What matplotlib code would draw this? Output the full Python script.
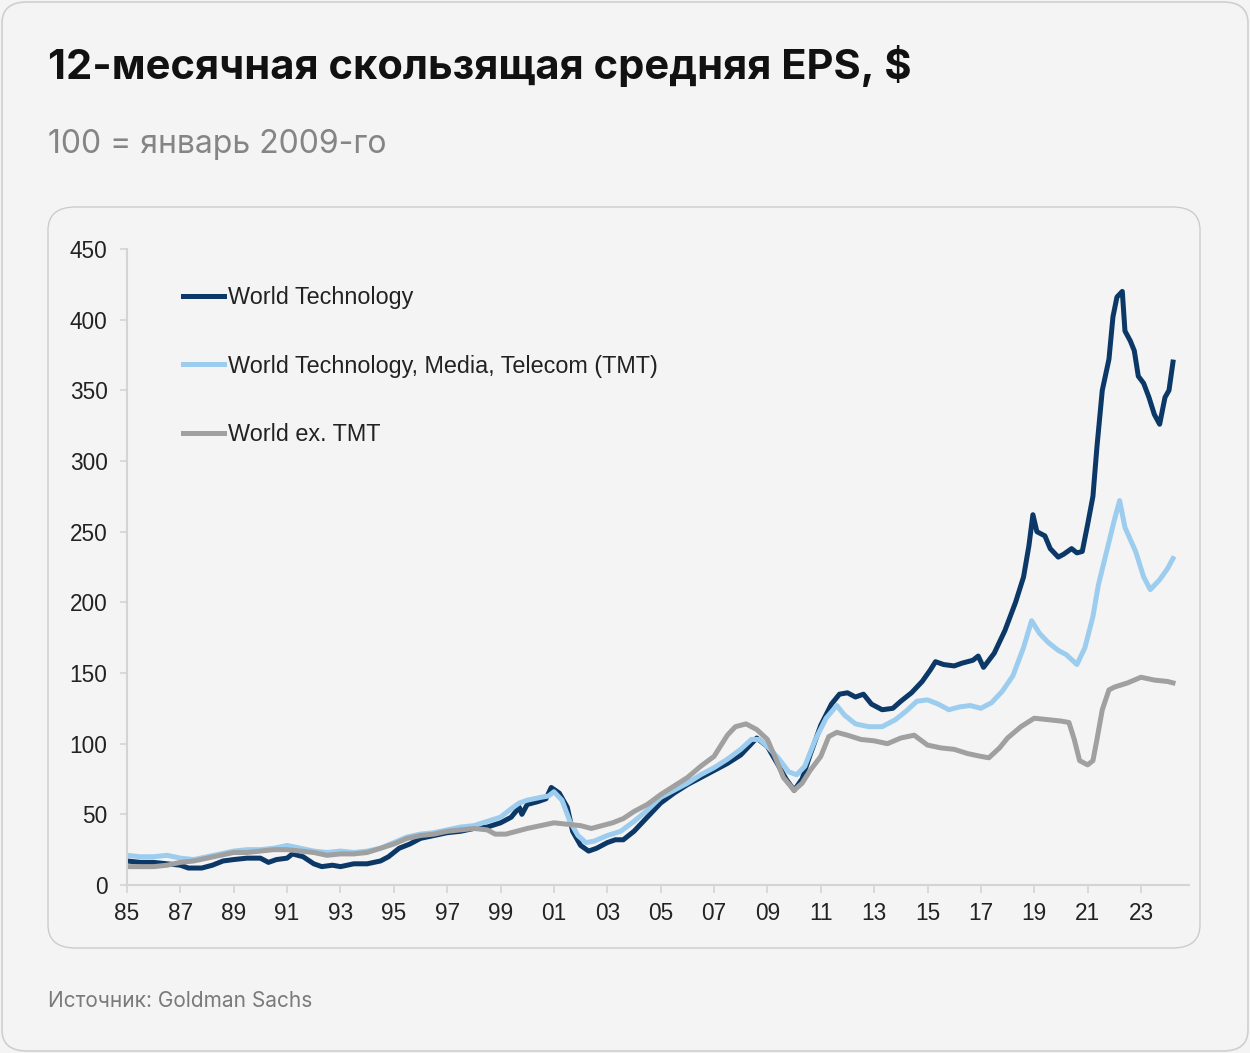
import matplotlib
matplotlib.use("Agg")
import matplotlib.pyplot as plt
from matplotlib.patches import FancyBboxPatch

# ------- данные (чтение с графика), 100 = январь 2009
tech_years = [1985.0, 1985.5, 1986.0, 1986.5, 1987.0, 1987.3, 1987.8, 1988.2, 1988.6, 1989.0,
              1989.5, 1990.0, 1990.3, 1990.6, 1991.0, 1991.2, 1991.6, 1992.0, 1992.3, 1992.7,
              1993.0, 1993.5, 1994.0, 1994.5, 1994.8, 1995.2, 1995.6, 1996.0, 1996.5, 1997.0,
              1997.5, 1998.0, 1998.5, 1999.0, 1999.4, 1999.7, 1999.8, 2000.0, 2000.4, 2000.7,
              2000.9, 2001.2, 2001.5, 2001.7, 2002.0, 2002.3, 2002.6, 2003.0, 2003.3, 2003.6,
              2004.0, 2004.5, 2005.0, 2005.5, 2006.0, 2006.5, 2007.0, 2007.5, 2008.0, 2008.3,
              2008.6, 2009.0, 2009.4, 2009.7, 2010.0, 2010.3, 2010.6, 2011.0, 2011.4, 2011.7,
              2012.0, 2012.3, 2012.6, 2012.9, 2013.3, 2013.7, 2014.0, 2014.4, 2014.8, 2015.1,
              2015.3, 2015.6, 2016.0, 2016.3, 2016.7, 2016.9, 2017.1, 2017.5, 2017.9, 2018.3,
              2018.6, 2018.8, 2018.95, 2019.1, 2019.4, 2019.6, 2019.9, 2020.1, 2020.4, 2020.6,
              2020.8, 2021.0, 2021.2, 2021.35, 2021.55, 2021.8, 2021.95, 2022.1, 2022.3, 2022.4,
              2022.6, 2022.75, 2022.9, 2023.1, 2023.3, 2023.5, 2023.7, 2023.9, 2024.05, 2024.2]
tech_values = [17, 16, 16, 15, 14, 12, 12, 14, 17, 18,
               19, 19, 16, 18, 19, 22, 20, 15, 13, 14,
               13, 15, 15, 17, 20, 26, 29, 33, 35, 37,
               38, 40, 41, 44, 48, 55, 50, 57, 59, 61,
               69, 65, 55, 38, 28, 24, 26, 30, 32, 32,
               38, 48, 58, 65, 71, 76, 81, 86, 92, 98,
               104, 98, 85, 75, 67, 75, 92, 113, 128, 135,
               136, 133, 135, 128, 124, 125, 130, 136, 144, 152,
               158, 156, 155, 157, 159, 162, 154, 164, 180, 200,
               218, 240, 262, 250, 247, 238, 232, 234, 238, 235,
               236, 255, 275, 310, 350, 372, 402, 416, 420, 392,
               385, 378, 360, 355, 345, 333, 326, 345, 350, 370]

tmt_years = [1985.0, 1985.5, 1986.0, 1986.5, 1987.0, 1987.5, 1988.0, 1988.5, 1989.0, 1989.5,
             1990.0, 1990.5, 1991.0, 1991.5, 1992.0, 1992.5, 1993.0, 1993.5, 1994.0, 1994.5,
             1995.0, 1995.5, 1996.0, 1996.5, 1997.0, 1997.5, 1998.0, 1998.5, 1999.0, 1999.4,
             1999.7, 2000.0, 2000.5, 2000.8, 2001.0, 2001.3, 2001.6, 2001.9, 2002.2, 2002.5,
             2003.0, 2003.5, 2004.0, 2004.5, 2005.0, 2005.5, 2006.0, 2006.5, 2007.0, 2007.5,
             2008.0, 2008.4, 2008.7, 2009.0, 2009.4, 2009.8, 2010.1, 2010.4, 2010.8, 2011.2,
             2011.6, 2011.9, 2012.3, 2012.8, 2013.3, 2013.8, 2014.2, 2014.6, 2015.0, 2015.4,
             2015.8, 2016.2, 2016.6, 2017.0, 2017.4, 2017.8, 2018.2, 2018.6, 2018.9, 2019.2,
             2019.5, 2019.9, 2020.2, 2020.6, 2020.9, 2021.2, 2021.4, 2021.7, 2022.0, 2022.2,
             2022.4, 2022.8, 2023.1, 2023.35, 2023.7, 2024.0, 2024.2]
tmt_values = [21, 20, 20, 21, 19, 18, 20, 22, 24, 25,
              25, 26, 28, 26, 24, 23, 24, 23, 24, 26,
              30, 34, 36, 37, 39, 41, 42, 45, 48, 54,
              58, 60, 62, 63, 66, 60, 45, 35, 30, 31,
              35, 38, 45, 53, 62, 67, 72, 78, 83, 89,
              96, 103, 103, 98, 90, 80, 78, 84, 103, 118,
              127, 120, 114, 112, 112, 117, 123, 130, 131, 128,
              124, 126, 127, 125, 129, 137, 148, 168, 187, 178,
              172, 166, 163, 156, 168, 190, 212, 235, 258, 272,
              253, 236, 218, 209, 216, 224, 231]

extmt_years = [1985.0, 1985.5, 1986.0, 1986.5, 1987.0, 1987.5, 1988.0, 1988.5, 1989.0, 1989.5,
               1990.0, 1990.5, 1991.0, 1991.5, 1992.0, 1992.5, 1993.0, 1993.5, 1994.0, 1994.5,
               1995.0, 1995.5, 1996.0, 1996.5, 1997.0, 1997.5, 1998.0, 1998.5, 1998.8, 1999.2,
               1999.6, 2000.0, 2000.5, 2001.0, 2001.5, 2002.0, 2002.4, 2002.8, 2003.2, 2003.6,
               2004.0, 2004.5, 2005.0, 2005.5, 2006.0, 2006.5, 2007.0, 2007.5, 2007.8, 2008.2,
               2008.6, 2009.0, 2009.3, 2009.6, 2010.0, 2010.3, 2010.6, 2011.0, 2011.3, 2011.6,
               2012.0, 2012.5, 2013.0, 2013.5, 2014.0, 2014.5, 2015.0, 2015.5, 2016.0, 2016.5,
               2017.0, 2017.3, 2017.7, 2018.0, 2018.5, 2019.0, 2019.5, 2020.0, 2020.3, 2020.5,
               2020.7, 2021.0, 2021.2, 2021.35, 2021.55, 2021.8, 2022.0, 2022.5, 2023.0, 2023.5,
               2024.0, 2024.2]
extmt_values = [13, 13, 13, 14, 16, 17, 19, 21, 23, 23,
                24, 25, 25, 24, 23, 21, 22, 22, 23, 26,
                29, 33, 35, 36, 38, 39, 40, 39, 36, 36,
                38, 40, 42, 44, 43, 42, 40, 42, 44, 47,
                52, 57, 64, 70, 76, 84, 91, 106, 112, 114,
                110, 103, 90, 76, 67, 72, 81, 91, 105, 108,
                106, 103, 102, 100, 104, 106, 99, 97, 96, 93,
                91, 90, 97, 104, 112, 118, 117, 116, 115, 103,
                88, 85, 88, 103, 124, 138, 140, 143, 147, 145,
                144, 143]

series_names = ['World Technology', 'World Technology, Media, Telecom (TMT)', 'World ex. TMT']
series_colors = ['#0b3866', '#9dcdee', '#a0a0a0']

tick_years = list(range(1985, 2024, 2))
tick_labels = ['%02d' % (y % 100) for y in tick_years]

BG = '#f4f4f4'

fig = plt.figure(figsize=(12.5, 10.53), dpi=100, facecolor=BG)

# рамки карточки
fig.patches.append(FancyBboxPatch((2 / 1250, 2 / 1053), 1246 / 1250, 1049 / 1053,
                                  boxstyle='round,pad=0,rounding_size=0.02',
                                  transform=fig.transFigure, facecolor='none',
                                  edgecolor='#cfcfcf', linewidth=1.2, zorder=-2))
fig.patches.append(FancyBboxPatch((48 / 1250, 105 / 1053), 1152 / 1250, 741 / 1053,
                                  boxstyle='round,pad=0,rounding_size=0.022',
                                  transform=fig.transFigure, facecolor='none',
                                  edgecolor='#cccccc', linewidth=1.0, zorder=-2))

fig.text(48 / 1250, 1 - 66 / 1053, '12-месячная скользящая средняя EPS, $',
         fontsize=30, fontweight='bold', family=['Inter', 'DejaVu Sans'],
         color='#111111', va='center', ha='left')
fig.text(48 / 1250, 1 - 145 / 1053, '100 = январь 2009-го',
         fontsize=23, family=['Inter', 'DejaVu Sans'],
         color='#858585', va='center', ha='left')
fig.text(48 / 1250, 1 - 1001 / 1053, 'Источник: Goldman Sachs',
         fontsize=15, family=['Inter', 'DejaVu Sans'],
         color='#7a7a7a', va='center', ha='left')

ax = fig.add_axes([127 / 1250, 1 - 885 / 1053, (1189 - 127) / 1250, (885 - 249) / 1053])
ax.set_zorder(2)
ax.patch.set_alpha(0)

ax.plot(tech_years, tech_values, color=series_colors[0], lw=3.6, label=series_names[0],
        solid_joinstyle='round')
ax.plot(tmt_years, tmt_values, color=series_colors[1], lw=3.6, label=series_names[1],
        solid_joinstyle='round')
ax.plot(extmt_years, extmt_values, color=series_colors[2], lw=3.6, label=series_names[2],
        solid_joinstyle='round')

ax.set_xlim(1985, 2024.8)
ax.set_ylim(0, 450)
ax.set_yticks(range(0, 451, 50))
ax.set_xticks(tick_years)
ax.set_xticklabels(tick_labels)

for s in ['top', 'right']:
    ax.spines[s].set_visible(False)
for s in ['left', 'bottom']:
    ax.spines[s].set_color('#d4d4d4')
    ax.spines[s].set_linewidth(1.5)

ax.tick_params(axis='both', colors='#d4d4d4', labelcolor='#222222', labelsize=16.3, width=1.2)
ax.tick_params(axis='y', length=5, pad=9)
ax.tick_params(axis='x', length=6, pad=6)
for lab in ax.get_xticklabels() + ax.get_yticklabels():
    lab.set_family(['Liberation Sans', 'DejaVu Sans'])

leg = ax.legend(loc='upper left', bbox_to_anchor=(183 / 1250, 1 - 286 / 1053),
                bbox_transform=fig.transFigure, frameon=False, borderpad=0,
                borderaxespad=0, handlelength=1.75, handletextpad=0.2,
                labelspacing=1.95, prop={'family': 'Liberation Sans', 'size': 16.8})
for t in leg.get_texts():
    t.set_color('#222222')

fig.savefig('out.png', dpi=100, facecolor=BG)
